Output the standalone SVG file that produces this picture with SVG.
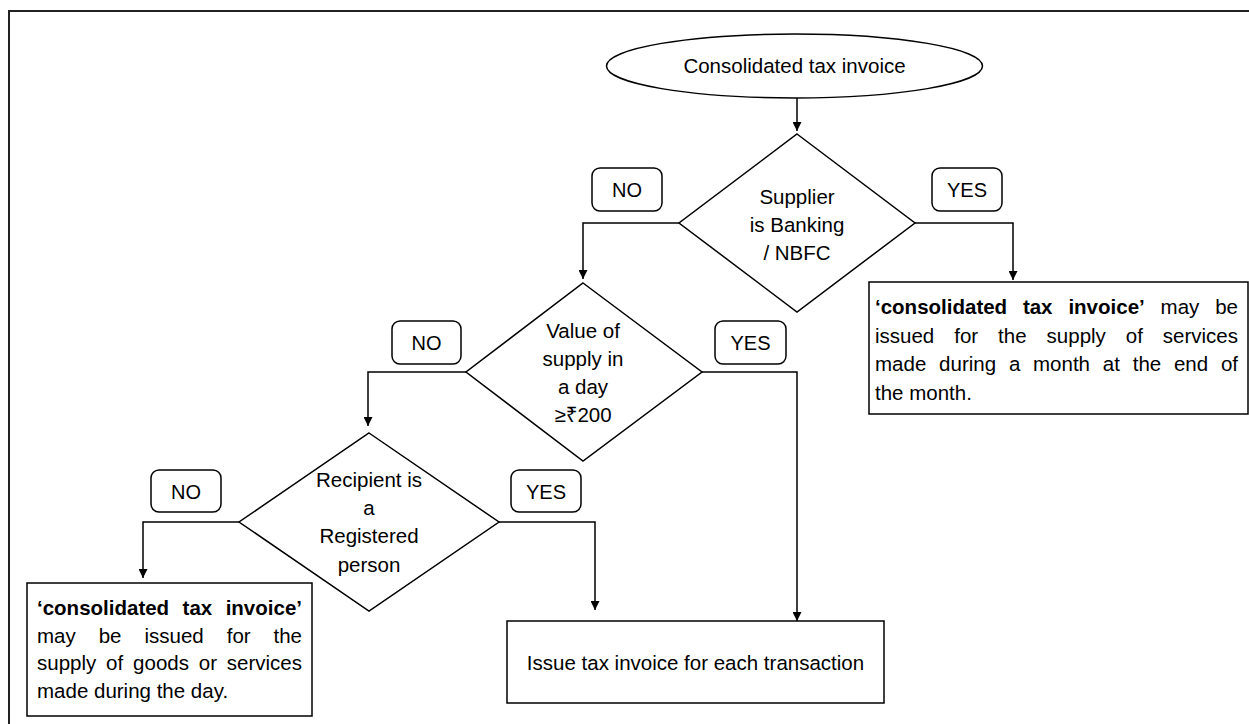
<svg xmlns="http://www.w3.org/2000/svg" width="1249" height="724" viewBox="0 0 1249 724">
<style>
.t{font-family:"Liberation Sans","Noto Sans","DejaVu Sans",sans-serif;font-size:20.5px;fill:#000}
.c{text-anchor:middle}
.e{text-anchor:end}
.b{font-weight:bold}
.lbl{font-family:"Liberation Sans","Noto Sans",sans-serif;font-size:20px;fill:#000;text-anchor:middle}
.shape{fill:#fff;stroke:#000;stroke-width:1.5}
.conn{fill:none;stroke:#000;stroke-width:1.5}
</style>
<defs>
<marker id="arr" viewBox="0 0 10 10" refX="10" refY="5" markerWidth="9" markerHeight="9" markerUnits="userSpaceOnUse" orient="auto">
<path d="M0,0 L10,5 L0,10 z" fill="#000"/>
</marker>
</defs>
<rect x="9" y="11" width="1260" height="730" fill="#fff" stroke="#222" stroke-width="2"/>

<g id="connectors">
<path class="conn" d="M797,98 V131" marker-end="url(#arr)"/>
<path class="conn" d="M679,223 H583 V279" marker-end="url(#arr)"/>
<path class="conn" d="M915,223 H1013 V280" marker-end="url(#arr)"/>
<path class="conn" d="M466,372 H368 V426" marker-end="url(#arr)"/>
<path class="conn" d="M702,372 H797 V621" marker-end="url(#arr)"/>
<path class="conn" d="M239,522 H143 V578" marker-end="url(#arr)"/>
<path class="conn" d="M499,522 H595 V610" marker-end="url(#arr)"/>
</g>

<g id="start">
<ellipse class="shape" cx="794.5" cy="66" rx="188" ry="32"/>
<text class="t c" x="794.5" y="73">Consolidated tax invoice</text>
</g>

<g id="dec1">
<polygon class="shape" points="797,134 915,223 797,312 679,223"/>
<text class="t c" x="797" y="204">Supplier</text>
<text class="t c" x="797" y="232">is Banking</text>
<text class="t c" x="797" y="260">/ NBFC</text>
</g>

<g id="dec2">
<polygon class="shape" points="583,283 702,372 583,461 466,372"/>
<text class="t c" x="583" y="338">Value of</text>
<text class="t c" x="583" y="366">supply in</text>
<text class="t c" x="583" y="394">a day</text>
<text class="t c" x="583" y="422">≥₹200</text>
</g>

<g id="dec3">
<polygon class="shape" points="369,433 499,522 369,611 239,522"/>
<text class="t c" x="369" y="487">Recipient is</text>
<text class="t c" x="369" y="515">a</text>
<text class="t c" x="369" y="543">Registered</text>
<text class="t c" x="369" y="572">person</text>
</g>

<g id="label-no1">
<rect class="shape" x="592" y="168" width="70" height="43" rx="8"/>
<text class="lbl" x="627" y="197">NO</text>
</g>
<g id="label-yes1">
<rect class="shape" x="932" y="168" width="70" height="43" rx="8"/>
<text class="lbl" x="967" y="197">YES</text>
</g>
<g id="label-no2">
<rect class="shape" x="392" y="321" width="69" height="43" rx="8"/>
<text class="lbl" x="426.5" y="350">NO</text>
</g>
<g id="label-yes2">
<rect class="shape" x="715" y="321" width="71" height="43" rx="8"/>
<text class="lbl" x="750.5" y="350">YES</text>
</g>
<g id="label-no3">
<rect class="shape" x="151" y="470" width="70" height="42" rx="8"/>
<text class="lbl" x="186" y="499">NO</text>
</g>
<g id="label-yes3">
<rect class="shape" x="511" y="470" width="70" height="42" rx="8"/>
<text class="lbl" x="546" y="499">YES</text>
</g>

<g id="box-month">
<rect class="shape" x="869" y="282" width="379" height="132"/>
<text class="t b" x="875" y="314">‘consolidated</text>
<text class="t b" x="1022.9" y="314">tax</text>
<text class="t b" x="1068.4" y="314">invoice’</text>
<text class="t" x="1160.6" y="314">may</text>
<text class="t e" x="1238" y="314">be</text>
<text class="t" x="875" y="343">issued</text>
<text class="t" x="954.2" y="343">for</text>
<text class="t" x="998.1" y="343">the</text>
<text class="t" x="1046.6" y="343">supply</text>
<text class="t" x="1125.8" y="343">of</text>
<text class="t e" x="1238" y="343">services</text>
<text class="t" x="875" y="371">made</text>
<text class="t" x="939.1" y="371">during</text>
<text class="t" x="1008.9" y="371">a</text>
<text class="t" x="1033" y="371">month</text>
<text class="t" x="1102.8" y="371">at</text>
<text class="t" x="1132.7" y="371">the</text>
<text class="t" x="1173.9" y="371">end</text>
<text class="t e" x="1238" y="371">of</text>
<text class="t" x="875" y="400">the month.</text>
</g>

<g id="box-day">
<rect class="shape" x="27" y="583" width="285" height="133"/>
<text class="t b" x="37" y="615">‘consolidated</text>
<text class="t b" x="182.6" y="615">tax</text>
<text class="t b e" x="302" y="615">invoice’</text>
<text class="t" x="37" y="643">may</text>
<text class="t" x="98.7" y="643">be</text>
<text class="t" x="144.5" y="643">issued</text>
<text class="t" x="226.7" y="643">for</text>
<text class="t e" x="302" y="643">the</text>
<text class="t" x="37" y="670">supply</text>
<text class="t" x="106.1" y="670">of</text>
<text class="t" x="133.1" y="670">goods</text>
<text class="t" x="198.8" y="670">or</text>
<text class="t e" x="302" y="670">services</text>
<text class="t" x="37" y="698">made during the day.</text>
</g>

<g id="box-each">
<rect class="shape" x="507" y="621" width="377" height="82"/>
<text class="t c" x="695.5" y="670">Issue tax invoice for each transaction</text>
</g>
</svg>
